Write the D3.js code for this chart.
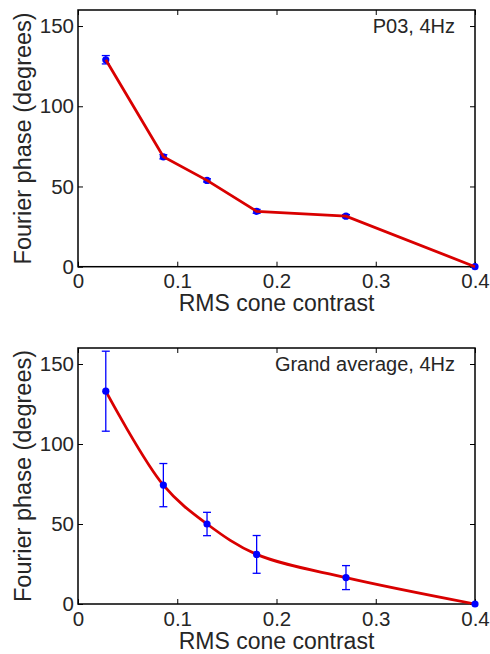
<!DOCTYPE html>
<html>
<head>
<meta charset="utf-8">
<script src="https://cdn.jsdelivr.net/npm/d3@7"></script>
<style>
  body { margin: 0; background: #fff; }
  svg { display: block; }
  text { font-family: "Liberation Sans", Arial, Helvetica, sans-serif; fill: #262626; }
</style>
</head>
<body>
<svg id="chart" width="490" height="654"></svg>
<script>
// données
const contrast = [0.028, 0.086, 0.13, 0.18, 0.27, 0.4];

const phaseP03 = [129, 68.5, 53.8, 34.5, 31.5, 0];
const errP03   = [2.6, 1.3, 1.0, 1.2, 1.0, 0];

const phaseAvg = [133, 74.3, 50, 31, 16.5, 0];
const errAvg   = [25, 13.5, 7.3, 11.8, 7.5, 0];

const xTicks = [0, 0.1, 0.2, 0.3, 0.4];
const yTicks = [0, 50, 100, 150];

const panels = [
  {title: 'P03, 4Hz', phase: phaseP03, err: errP03, top: 10, bottom: 266.7, smooth: false},
  {title: 'Grand average, 4Hz', phase: phaseAvg, err: errAvg, top: 348, bottom: 604, smooth: true}
];

const svg = d3.select('#chart');
const left = 78, right = 475;
const red = '#d90000', blue = '#0000ff';

const x = d3.scaleLinear().domain([0, 0.4]).range([left, right]);

panels.forEach(p => {
  const y = d3.scaleLinear().domain([0, 160]).range([p.bottom, p.top]);
  const g = svg.append('g');
  const pts = contrast.map((c, i) => ({x: c, y: p.phase[i], e: p.err[i]}));

  // axes façon matlab (ticks vers l'intérieur, sur les 4 côtés)
  const tick = 5;
  g.append('g').attr('transform', `translate(0,${p.bottom})`)
    .call(d3.axisBottom(x).tickValues(xTicks).tickSize(-tick).tickPadding(7).tickFormat(d3.format('')))
    .call(a => a.select('.domain').remove());
  g.append('g').attr('transform', `translate(0,${p.top})`)
    .call(d3.axisTop(x).tickValues(xTicks).tickSize(-tick).tickFormat(''))
    .call(a => a.select('.domain').remove());
  g.append('g').attr('transform', `translate(${left},0)`)
    .call(d3.axisLeft(y).tickValues(yTicks).tickSize(-tick).tickPadding(4))
    .call(a => a.select('.domain').remove());
  g.append('g').attr('transform', `translate(${right},0)`)
    .call(d3.axisRight(y).tickValues(yTicks).tickSize(-tick).tickFormat(''))
    .call(a => a.select('.domain').remove());

  g.selectAll('.tick line').attr('stroke', '#000').attr('stroke-width', 1);
  g.selectAll('.tick text').style('font-size', '20.5px').attr('fill', '#262626');

  g.append('rect')
    .attr('x', left).attr('y', p.top)
    .attr('width', right - left).attr('height', p.bottom - p.top)
    .attr('fill', 'none').attr('stroke', '#000').attr('stroke-width', 1.5);

  const line = d3.line().x(d => x(d.x)).y(d => y(d.y))
    .curve(p.smooth ? d3.curveCatmullRom.alpha(0.5) : d3.curveLinear);

  const drawMarks = () => {
    const eb = g.append('g').attr('stroke', blue).attr('stroke-width', 1.3);
    pts.filter(d => d.e > 0).forEach(d => {
      eb.append('line').attr('x1', x(d.x)).attr('x2', x(d.x)).attr('y1', y(d.y - d.e)).attr('y2', y(d.y + d.e));
      [d.y - d.e, d.y + d.e].forEach(v => {
        eb.append('line').attr('x1', x(d.x) - 4).attr('x2', x(d.x) + 4).attr('y1', y(v)).attr('y2', y(v));
      });
    });
    g.append('g').selectAll('circle').data(pts).join('circle')
      .attr('cx', d => x(d.x)).attr('cy', d => y(d.y)).attr('r', 3.6).attr('fill', blue);
  };

  const drawLine = () => {
    g.append('path').datum(pts).attr('d', line)
      .attr('fill', 'none').attr('stroke', red).attr('stroke-width', 2.8);
  };

  // en haut la ligne passe par-dessus les points, en bas l'inverse
  if (p.smooth) { drawLine(); drawMarks(); } else { drawMarks(); drawLine(); }

  g.append('text')
    .attr('x', 455).attr('y', p.top + 23)
    .attr('text-anchor', 'end')
    .style('font-size', '20px')
    .text(p.title);

  g.append('text')
    .attr('x', 276.5).attr('y', p.bottom + 44.5)
    .attr('text-anchor', 'middle')
    .style('font-size', '23px')
    .text('RMS cone contrast');

  g.append('text')
    .attr('transform', `translate(31,${(p.top + p.bottom) / 2}) rotate(-90)`)
    .attr('text-anchor', 'middle')
    .style('font-size', '23.5px')
    .text('Fourier phase (degrees)');
});
</script>
</body>
</html>
